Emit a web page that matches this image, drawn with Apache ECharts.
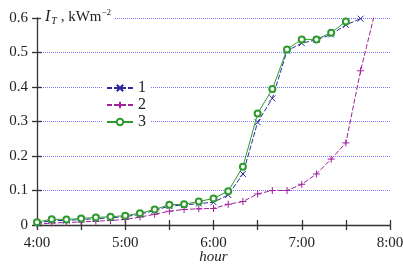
<!DOCTYPE html>
<html>
<head>
<meta charset="utf-8">
<script src="https://cdn.jsdelivr.net/npm/echarts@6/dist/echarts.min.js"></script>
<style>
html,body{margin:0;padding:0;background:#fff;}
#chart{width:403px;height:264px;}
</style>
</head>
<body>
<div id="chart"></div>
<script>
// time of reading, every 10 min
var times = ['4:00','4:10','4:20','4:30','4:40','4:50','5:00','5:10','5:20','5:30','5:40','5:50',
	'6:00','6:10','6:20','6:30','6:40','6:50','7:00','7:10','7:20','7:30','7:40','7:50'];
// I_T, kWm-2
var series1 = [0.005,0.013,0.013,0.016,0.018,0.021,0.024,0.031,0.042,0.055,0.058,0.062,
	0.066,0.087,0.148,0.298,0.367,0.505,0.527,0.537,0.552,0.580,0.598];
var series2 = [0.002,0.006,0.007,0.009,0.011,0.013,0.016,0.023,0.031,0.040,0.045,0.047,
	0.048,0.060,0.068,0.090,0.100,0.100,0.118,0.148,0.191,0.238,0.447,0.620];
var series3 = [0.008,0.017,0.016,0.019,0.022,0.024,0.027,0.034,0.045,0.059,0.060,0.068,
	0.077,0.098,0.169,0.323,0.394,0.509,0.538,0.538,0.557,0.590];
var names = ['1','2','3'];
var colors = ['#2b2b9e','#a0219f','#2e9a2e'];

var serif = '"Liberation Serif", "Times New Roman", serif';

function toHour(t){
	var p = t.split(':');
	return parseInt(p[0]) + parseInt(p[1])/60;
}
function pairs(vals){
	var out = [];
	for(var i=0;i<vals.length;i++)
		out.push([toHour(times[i]), vals[i]]);
	return out;
}

var myChart = echarts.init(document.getElementById('chart'));

var axisLineStyle = {color:'#333', width:1.3};

var option = {
	animation:false,
	grid:{left:37, right:13, top:18, bottom:39, outerBoundsMode:'none', containLabel:false},
	title:{
		text:'{i|I}{sub|T}{n| , kWm}{sup|\u22122}',
		left:41, top:8,
		padding:[0,4,0,4],
		backgroundColor:'#fff',
		textStyle:{
			fontWeight:'normal',
			rich:{
				i:{fontFamily:serif, fontStyle:'italic', fontWeight:'normal', fontSize:16, color:'#222'},
				sub:{fontFamily:serif, fontStyle:'italic', fontWeight:'normal', fontSize:10, color:'#222', verticalAlign:'bottom', padding:[8,0,0,1]},
				n:{fontFamily:serif, fontWeight:'normal', fontSize:15, color:'#222'},
				sup:{fontFamily:serif, fontWeight:'normal', fontSize:9, color:'#222', verticalAlign:'top', padding:[0,0,8,0]}
			}
		}
	},
	legend:{
		orient:'vertical',
		left:102, top:78,
		itemWidth:26, itemHeight:8, itemGap:1,
		padding:[2,4,2,4],
		backgroundColor:'#fff',
		data:names,
		textStyle:{fontFamily:serif, fontSize:16, color:'#222'}
	},
	xAxis:[{
		type:'value', min:4, max:8, interval:0.5,
		name:'hour', nameLocation:'middle', nameGap:25, nameMoveOverlap:false,
		nameTextStyle:{fontFamily:serif, fontStyle:'italic', fontSize:15, color:'#222', verticalAlign:'top'},
		axisLine:{show:true, lineStyle:axisLineStyle},
		axisTick:{show:true, length:5, lineStyle:axisLineStyle},
		axisLabel:{
			fontFamily:serif, fontSize:15, color:'#222', margin:11,
			formatter:function(v){ return (v % 1 === 0) ? v + ':00' : ''; }
		},
		splitLine:{show:false}
	},{
		type:'value', min:4, max:8, interval:0.5, position:'bottom',
		axisLine:{show:false},
		axisTick:{show:true, inside:true, length:5, lineStyle:axisLineStyle},
		axisLabel:{show:false},
		splitLine:{show:false}
	}],
	yAxis:[{
		type:'value', min:0, max:0.6, interval:0.1,
		axisLine:{show:true, lineStyle:axisLineStyle},
		axisTick:{show:true, length:5, lineStyle:axisLineStyle},
		axisLabel:{
			fontFamily:serif, fontSize:15, color:'#222', margin:9,
			formatter:function(v){ return v === 0 ? '0' : v.toFixed(1); }
		},
		splitLine:{show:true, lineStyle:{color:'#7878ff', type:[1,1], width:1}}
	},{
		type:'value', min:0, max:0.6, interval:0.1, position:'left',
		axisLine:{show:false},
		axisTick:{show:true, inside:true, length:5, lineStyle:axisLineStyle},
		axisLabel:{show:false},
		splitLine:{show:false}
	}],
	series:[{
		name:names[0], type:'line', data:pairs(series1),
		symbol:'path://M0,0L10,10M10,0L0,10', symbolSize:6,
		lineStyle:{color:colors[0], width:1, type:[5,2]},
		itemStyle:{color:colors[0], borderColor:colors[0], borderWidth:1},
		z:3
	},{
		name:names[1], type:'line', data:pairs(series2),
		symbol:'path://M5,0L5,10M0,5L10,5', symbolSize:7,
		lineStyle:{color:colors[1], width:1, type:[5,2]},
		itemStyle:{color:colors[1], borderColor:colors[1], borderWidth:1},
		z:2
	},{
		name:names[2], type:'line', data:pairs(series3),
		symbol:'emptyCircle', symbolSize:6,
		lineStyle:{color:colors[2], width:1},
		itemStyle:{color:colors[2], borderColor:colors[2], borderWidth:1},
		z:4
	}]
};
myChart.setOption(option);
</script>
</body>
</html>
